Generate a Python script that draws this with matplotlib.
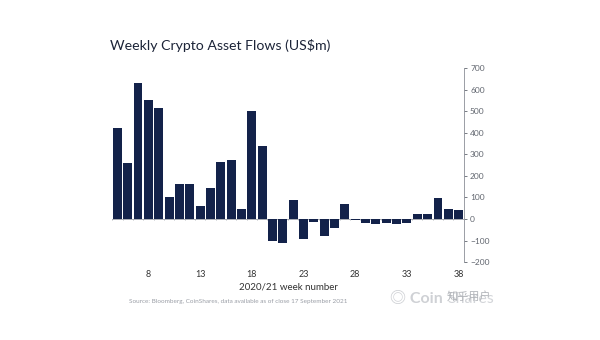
import matplotlib.pyplot as plt
import numpy as np

weeks = list(range(5, 39))
flows = [420, 260, 630, 552, 515, 103, 162, 164, 60, 144, 263, 272, 48, 502, 337,
         -102, -111, 87, -94, -15, -77, -42, 71, -3, -18, -23, -17, -25, -20,
         23, 22, 99, 45, 42]
xticks = [8, 13, 18, 23, 28, 33, 38]
yticks = list(range(-200, 701, 100))

NAVY = "#13224a"


def main():
    plt.rcParams.update({"font.family": ["Lato", "Noto Sans CJK SC", "DejaVu Sans"]})
    fig = plt.figure(figsize=(6.0, 3.4), dpi=100)
    ax = fig.add_axes([0.187, 0.229, 0.586, 0.571])

    ax.bar(weeks, flows, width=0.86, color=NAVY, zorder=2)
    ax.axhline(0, color="#9a9ea6", lw=0.6, zorder=1)
    # small category ticks along the zero line
    edges = np.arange(weeks[0] - 0.5, weeks[-1] + 1.0, 1.0)
    ax.vlines(edges, -6, 0, color="#9a9ea6", lw=0.5, zorder=1)

    ax.set_xlim(weeks[0] - 0.5, weeks[-1] + 0.5)
    ax.set_ylim(-200, 700)
    ax.set_yticks(yticks)
    ax.set_xticks(xticks)
    ax.tick_params(axis="x", length=0, labelsize=6.5, colors="#333333", pad=6)
    ax.tick_params(axis="y", left=False, right=True, labelleft=False, labelright=True,
                   length=2.5, width=0.6, labelsize=6, colors="#60656e", pad=2)
    for side in ("top", "left", "bottom"):
        ax.spines[side].set_visible(False)
    ax.spines["right"].set_color("#8a8e96")
    ax.spines["right"].set_linewidth(0.6)
    ax.set_xlabel("2020/21 week number", fontsize=7, color="#333333", labelpad=2)

    fig.text(0.183, 0.867, "Weekly Crypto Asset Flows (US$m)", fontsize=10.2,
             color="#1c2438", ha="left", va="center")
    fig.text(0.215, 0.112, "Source: Bloomberg, CoinShares, data available as of close 17 September 2021",
             fontsize=4.6, color="#9a9ea6", ha="left", va="center")
    fig.text(0.65, 0.122, "\u25ce Coin", fontsize=11.5, color="#cfd1d5",
             ha="left", va="center", fontweight="bold")
    fig.text(0.745, 0.122, "Shares", fontsize=11.5, color="#d3d5d9",
             ha="left", va="center")
    fig.text(0.745, 0.128, "知乎用户", fontsize=8, color="#b0b3b8", ha="left", va="center",
             family=["Noto Sans CJK SC", "DejaVu Sans"])

    fig.savefig("out.png", dpi=100)


if __name__ == "__main__":
    main()
